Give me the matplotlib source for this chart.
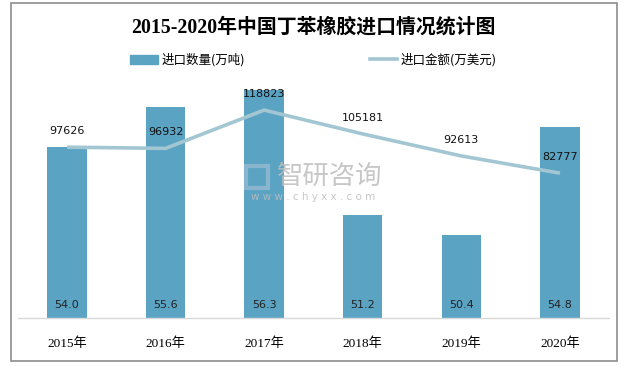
import matplotlib
matplotlib.use("Agg")
import matplotlib.pyplot as plt
from matplotlib.patches import Rectangle
from matplotlib.lines import Line2D

years = ["2015年", "2016年", "2017年", "2018年", "2019年", "2020年"]
volume = [54.0, 55.6, 56.3, 51.2, 50.4, 54.8]          # 进口数量(万吨)
amount = [97626, 96932, 118823, 105181, 92613, 82777]  # 进口金额(万美元)

bar_color = "#5ba3c3"
line_color = "#a3c6d3"
cjk = ["Noto Sans CJK SC", "DejaVu Sans"]
serif = ["Liberation Serif", "Noto Sans CJK SC"]

fig = plt.figure(figsize=(6.27, 3.66), dpi=100)
ax = fig.add_axes([0.0282, 0.1311, 0.9435, 0.6694])
ax2 = ax.twinx()

x = list(range(len(years)))
ax.bar(x, volume, width=0.4, color=bar_color, zorder=2)
ax.set_ylim(47, 57)
ax.set_xlim(-0.5, len(years) - 0.5)
for xi, v in zip(x, volume):
    ax.text(xi, 47.55, f"{v:.1f}", ha="center", va="center", fontsize=8,
            color="#222222", family="DejaVu Sans", zorder=5)

ax2.plot(x, amount, color=line_color, lw=2.6, zorder=3, solid_capstyle="butt")
ax2.set_ylim(0, 140000)
for xi, v in zip(x, amount):
    ax2.annotate(f"{v}", (xi, v), xytext=(0, 16), textcoords="offset pixels",
                 ha="center", va="center", fontsize=8, color="#111111",
                 family="DejaVu Sans")

for a in (ax, ax2):
    for s in a.spines.values():
        s.set_visible(False)
    a.set_yticks([])
ax.spines["bottom"].set_visible(True)
ax.spines["bottom"].set_color("#d9d9d9")
ax.spines["bottom"].set_linewidth(1)
ax.set_xticks(x)
ax.set_xticklabels(years, fontsize=9.5, family=serif)
ax.tick_params(axis="x", length=0, pad=14)

# watermark
fig.text(330 / 627, 1 - 176 / 366, "智研咨询", fontsize=19, color="#bdbdbd", family=cjk,
         ha="center", va="center", alpha=0.85, zorder=1)
fig.text(313 / 627, 1 - 197 / 366, "w w w . c h y x x . c o m", fontsize=7.5, color="#bdbdbd",
         family="DejaVu Sans", ha="center", va="center", alpha=0.85)
fig.patches.append(Rectangle((246 / 627, 1 - 188 / 366), 22 / 627, 22 / 366,
                             transform=fig.transFigure, fill=False,
                             edgecolor="#a9c4d6", lw=3, alpha=0.6))

# title
fig.text(0.5, 0.926, "2015-2020年中国丁苯橡胶进口情况统计图", fontsize=14.3,
         fontweight="bold", family=serif, ha="center", va="center")

# legend
handles = [Rectangle((0, 0), 1, 1, color=bar_color),
           Line2D([0], [0], color=line_color, lw=2.6)]
fig.legend(handles, ["进口数量(万吨)", "进口金额(万美元)"], loc="center",
           bbox_to_anchor=(0.5, 0.836), ncol=2, frameon=False,
           prop={"family": cjk, "size": 9}, columnspacing=10,
           handlelength=2.2, handletextpad=0.3)

# outer frame
fig.patches.append(Rectangle((11 / 627, 5 / 366), 606 / 627, 358 / 366,
                             transform=fig.transFigure, fill=False,
                             edgecolor="#8c8c8c", lw=1.2))

fig.savefig("out.png", dpi=100)
